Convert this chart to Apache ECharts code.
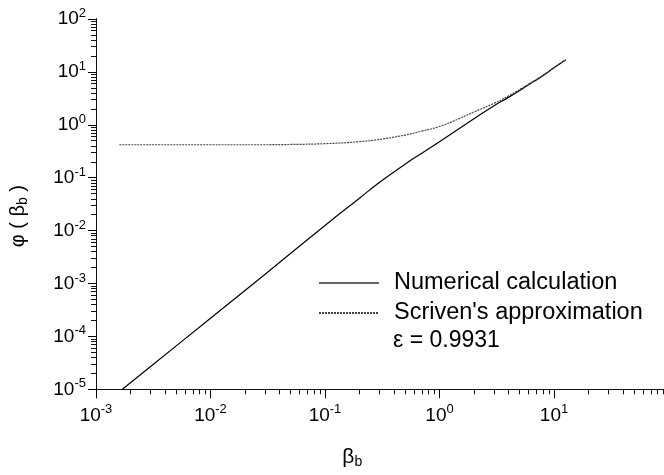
<!DOCTYPE html>
<html>
<head>
<meta charset="utf-8">
<script src="https://cdn.jsdelivr.net/npm/echarts@6/dist/echarts.min.js"></script>
<style>
    html, body { margin: 0; padding: 0; background: #fff; }
    #chart { width: 664px; height: 475px; }
</style>
</head>
<body>
<div id="chart"></div>
<script>
// 数值计算 (solid)
const betaNum = [0.0017, 0.003, 0.01, 0.03, 0.1, 0.2, 0.3, 0.5, 0.7, 1, 1.5, 2, 3, 4, 6, 8, 10, 12.7];
const phiNum = [1e-5, 2.7e-5, 2.2e-4, 1.5e-3, 0.0125, 0.041, 0.082, 0.18, 0.29, 0.48, 0.86, 1.3, 2.3, 3.3, 5.7, 8.5, 12, 17];
// Scriven 近似 (dotted)
const betaScr = [0.0016, 0.01, 0.03, 0.05, 0.1, 0.2, 0.3, 0.5, 0.7, 1, 1.5, 2, 3, 4, 6, 8, 10, 12.7];
const phiScr = [0.42, 0.42, 0.42, 0.425, 0.44, 0.48, 0.53, 0.64, 0.76, 0.93, 1.32, 1.75, 2.55, 3.5, 5.9, 8.6, 12.1, 17.1];

const seriesNames = ['Numerical calculation', "Scriven's approximation"];
const noteText = 'ε = 0.9931';
const xDecades = [-3, -2, -1, 0, 1];
const yDecades = [-5, -4, -3, -2, -1, 0, 1];
const minorMantissas = [2, 3, 4, 5, 6, 7, 8, 9];

const font = 'Liberation Sans, Arial, sans-serif';

// 绘图区 (两个 grid 共用)
const plotRect = { left: 96, top: 19, width: 572.5, height: 370.3 };

// 次刻度 (log 空间)
function minorLogs(decades) {
    const out = [];
    decades.forEach(d => {
        minorMantissas.forEach(m => out.push(d + Math.log10(m)));
    });
    return out;
}

function powLabel(v) {
    const e = Math.round(Math.log10(v));
    return '{b|10}{s|' + e + '}';
}

const labelRich = {
    b: { fontSize: 19, fontFamily: font, color: '#000', lineHeight: 24 },
    s: { fontSize: 13, fontFamily: font, color: '#000', verticalAlign: 'top', lineHeight: 13 }
};

// 辅助轴: 只画次刻度
function minorAxis(min, max, decades, len, pos, gridIndex) {
    const vals = minorLogs(decades);
    return {
        type: 'value',
        gridIndex: gridIndex,
        min: min,
        max: max,
        position: pos,
        axisLine: { show: true, onZero: false, lineStyle: { color: '#111', width: 1 } },
        axisTick: { show: true, length: len, customValues: vals, lineStyle: { color: '#111', opacity: 1 } },
        axisLabel: { show: false },
        splitLine: { show: false }
    };
}

const chart = echarts.init(document.getElementById('chart'));

chart.setOption({
    animation: false,
    backgroundColor: '#fff',
    grid: [
        Object.assign({ outerBoundsMode: 'none' }, plotRect),
        Object.assign({ outerBoundsMode: 'none' }, plotRect)
    ],
    legend: {
        orient: 'vertical',
        left: 318,
        top: 271,
        itemWidth: 60,
        itemHeight: 20,
        itemGap: 6,
        padding: 0,
        itemStyle: { opacity: 0 },
        textStyle: {
            fontSize: 23.5,
            fontFamily: font,
            color: '#000',
            lineHeight: 20,
            padding: [0, 0, 0, 10]
        },
        data: [
            { name: seriesNames[0], lineStyle: { color: '#666', width: 2 } },
            { name: seriesNames[1] }
        ]
    },
    graphic: [{
        type: 'text',
        left: 393,
        top: 329,
        style: {
            text: noteText,
            fontSize: 23,
            fontFamily: font,
            fill: '#000'
        }
    }],
    xAxis: [{
        type: 'log',
        gridIndex: 0,
        logBase: 10,
        min: 1e-3,
        max: 100,
        interval: 1,
        name: '{n|β}{sub|b}',
        nameLocation: 'middle',
        nameGap: 56,
        nameTextStyle: {
            padding: [0, 60, 0, 0],
            rich: {
                n: { fontSize: 21, fontFamily: font, color: '#000', lineHeight: 24 },
                sub: { fontSize: 14, fontFamily: font, color: '#000', verticalAlign: 'bottom', lineHeight: 14 }
            }
        },
        axisLine: { onZero: false, lineStyle: { color: '#000', width: 1 } },
        axisTick: { length: 9, lineStyle: { color: '#000' } },
        axisLabel: {
            margin: 14,
            showMaxLabel: false,
            formatter: powLabel,
            rich: labelRich
        },
        splitLine: { show: false }
    }, minorAxis(-3, 2, xDecades, 5, 'bottom', 0), {
        // grid 1 的占位 x 轴
        type: 'value',
        gridIndex: 1,
        min: -3,
        max: 2,
        show: false
    }],
    yAxis: [{
        type: 'log',
        gridIndex: 0,
        logBase: 10,
        min: 1e-5,
        max: 100,
        interval: 1,
        name: '{n|φ ( β}{sub|b}{n| )}',
        nameLocation: 'middle',
        nameGap: 66,
        nameTextStyle: {
            padding: [0, 24, 0, 0],
            rich: {
                n: { fontSize: 20, fontFamily: font, color: '#000', lineHeight: 24 },
                sub: { fontSize: 14, fontFamily: font, color: '#000', verticalAlign: 'bottom', lineHeight: 14 }
            }
        },
        axisLine: { onZero: false, lineStyle: { color: '#000', width: 1 } },
        axisTick: { length: 8, lineStyle: { color: '#000' } },
        axisLabel: {
            margin: 10,
            formatter: powLabel,
            rich: labelRich
        },
        splitLine: { show: false }
    }, minorAxis(-5, 2, yDecades, 5, 'left', 0), minorAxis(-5, 2, yDecades, 5, 'left', 1)],
    series: [{
        name: seriesNames[0],
        type: 'line',
        xAxisIndex: 0,
        yAxisIndex: 0,
        smooth: true,
        symbol: 'none',
        lineStyle: { color: '#000', width: 1.2, type: 'solid' },
        itemStyle: { color: '#000' },
        data: betaNum.map((b, i) => [b, phiNum[i]])
    }, {
        name: seriesNames[1],
        type: 'line',
        xAxisIndex: 0,
        yAxisIndex: 0,
        smooth: true,
        symbol: 'none',
        lineStyle: { color: '#444', width: 1.2, type: [2, 1] },
        itemStyle: { color: '#444' },
        data: betaScr.map((b, i) => [b, phiScr[i]])
    }]
});
</script>
</body>
</html>
